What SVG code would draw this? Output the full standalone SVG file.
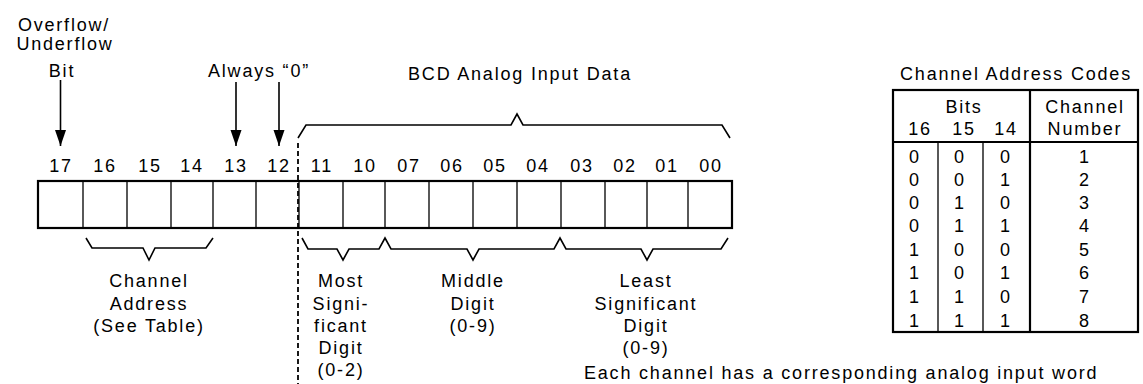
<svg xmlns="http://www.w3.org/2000/svg" width="1143" height="384" viewBox="0 0 1143 384">
<defs>
<style>
text{font-family:"Liberation Sans",Arial,sans-serif;font-size:18px;fill:#000;letter-spacing:1.8px}
.c{text-anchor:middle}
.thin{fill:none;stroke:#000;stroke-width:1.3}
.thick{fill:none;stroke:#000;stroke-width:2.2}
.brace{fill:none;stroke:#000;stroke-width:1.6;stroke-linejoin:miter}
.arrow{stroke:#000;stroke-width:1.6}
</style>
<marker id="ah" markerUnits="userSpaceOnUse" markerWidth="17" markerHeight="12" refX="16" refY="6" orient="auto" viewBox="0 0 17 12">
<path d="M0,0.5 L16,6 L0,11.5 Z" fill="#000"/>
</marker>
</defs>
<rect width="1143" height="384" fill="#fff"/>

<g id="labels-top">
<text class="c" x="64" y="31">Overflow/</text>
<text class="c" x="65" y="50">Underflow</text>
<text class="c" x="62" y="77">Bit</text>
<text class="c" x="259" y="77">Always “0”</text>
<text class="c" x="520" y="80">BCD Analog Input Data</text>
</g>

<g id="register">
<rect class="thick" x="38" y="181" width="694" height="47"/>
<path class="thin" d="M83,181V228M127,181V228M171,181V228M213,181V228M256,181V228M299,181V228M343,181V228M385,181V228M429,181V228M473,181V228M517,181V228M561,181V228M605,181V228M647,181V228M688,181V228"/>
<g>
<text class="c" x="61" y="172">17</text>
<text class="c" x="105" y="172">16</text>
<text class="c" x="150" y="172">15</text>
<text class="c" x="192" y="172">14</text>
<text class="c" x="236" y="172">13</text>
<text class="c" x="279" y="172">12</text>
<text class="c" x="322" y="172">11</text>
<text class="c" x="365" y="172">10</text>
<text class="c" x="409" y="172">07</text>
<text class="c" x="452" y="172">06</text>
<text class="c" x="495" y="172">05</text>
<text class="c" x="538" y="172">04</text>
<text class="c" x="582" y="172">03</text>
<text class="c" x="625" y="172">02</text>
<text class="c" x="667" y="172">01</text>
<text class="c" x="711" y="172">00</text>
</g>
</g>

<g id="connectors">
<line class="arrow" x1="60.5" y1="80" x2="60.5" y2="146" marker-end="url(#ah)"/>
<line class="arrow" x1="236" y1="82" x2="236" y2="146" marker-end="url(#ah)"/>
<line class="arrow" x1="279" y1="82" x2="279" y2="146" marker-end="url(#ah)"/>
<line x1="298" y1="143" x2="298" y2="384" stroke="#000" stroke-width="1.8" stroke-dasharray="5,3"/>
<path class="brace" d="M298,138 L306,125 L511,125 L517,114 L523,125 L722,125 L730,138"/>
<path class="brace" d="M86,238 L92,248 L143,248 L149,260 L155,248 L206,248 L213,238"/>
<path class="brace" d="M302,238 L308,249 L337,249 L343,260 L349,249 L379,249 L385,238 L391,249 L467,249 L473,260 L479,249 L554,249 L560,238 L566,249 L641,249 L647,260 L653,249 L721,249 L728,238"/>
</g>

<g id="labels-bottom">
<text class="c" x="149" y="287">Channel</text>
<text class="c" x="149" y="310">Address</text>
<text class="c" x="149" y="332">(See Table)</text>
<text class="c" x="341" y="287">Most</text>
<text class="c" x="341" y="310">Signi-</text>
<text class="c" x="341" y="332">ficant</text>
<text class="c" x="341" y="354">Digit</text>
<text class="c" x="341" y="376">(0-2)</text>
<text class="c" x="473" y="287">Middle</text>
<text class="c" x="473" y="310">Digit</text>
<text class="c" x="473" y="332">(0-9)</text>
<text class="c" x="646" y="287">Least</text>
<text class="c" x="646" y="310">Significant</text>
<text class="c" x="646" y="332">Digit</text>
<text class="c" x="646" y="354">(0-9)</text>
<text x="584" y="379">Each channel has a corresponding analog input word</text>
</g>

<g id="table">
<text class="c" x="1016" y="80">Channel Address Codes</text>
<rect class="thick" x="893" y="90" width="245" height="242"/>
<path class="thick" d="M1030,90V332M893,142H1138"/>
<path class="thin" d="M938,142V332M983,142V332"/>
<text class="c" x="964" y="113">Bits</text>
<text class="c" x="920" y="135">16</text>
<text class="c" x="964" y="135">15</text>
<text class="c" x="1006" y="135">14</text>
<text class="c" x="1085" y="113">Channel</text>
<text class="c" x="1085" y="135">Number</text>
<g>
<text class="c" x="915" y="163">0</text><text class="c" x="960" y="163">0</text><text class="c" x="1006" y="163">0</text><text class="c" x="1085" y="163">1</text>
<text class="c" x="915" y="186">0</text><text class="c" x="960" y="186">0</text><text class="c" x="1006" y="186">1</text><text class="c" x="1085" y="186">2</text>
<text class="c" x="915" y="209">0</text><text class="c" x="960" y="209">1</text><text class="c" x="1006" y="209">0</text><text class="c" x="1085" y="209">3</text>
<text class="c" x="915" y="232">0</text><text class="c" x="960" y="232">1</text><text class="c" x="1006" y="232">1</text><text class="c" x="1085" y="232">4</text>
<text class="c" x="915" y="256">1</text><text class="c" x="960" y="256">0</text><text class="c" x="1006" y="256">0</text><text class="c" x="1085" y="256">5</text>
<text class="c" x="915" y="279">1</text><text class="c" x="960" y="279">0</text><text class="c" x="1006" y="279">1</text><text class="c" x="1085" y="279">6</text>
<text class="c" x="915" y="303">1</text><text class="c" x="960" y="303">1</text><text class="c" x="1006" y="303">0</text><text class="c" x="1085" y="303">7</text>
<text class="c" x="915" y="327">1</text><text class="c" x="960" y="327">1</text><text class="c" x="1006" y="327">1</text><text class="c" x="1085" y="327">8</text>
</g>
</g>
</svg>
